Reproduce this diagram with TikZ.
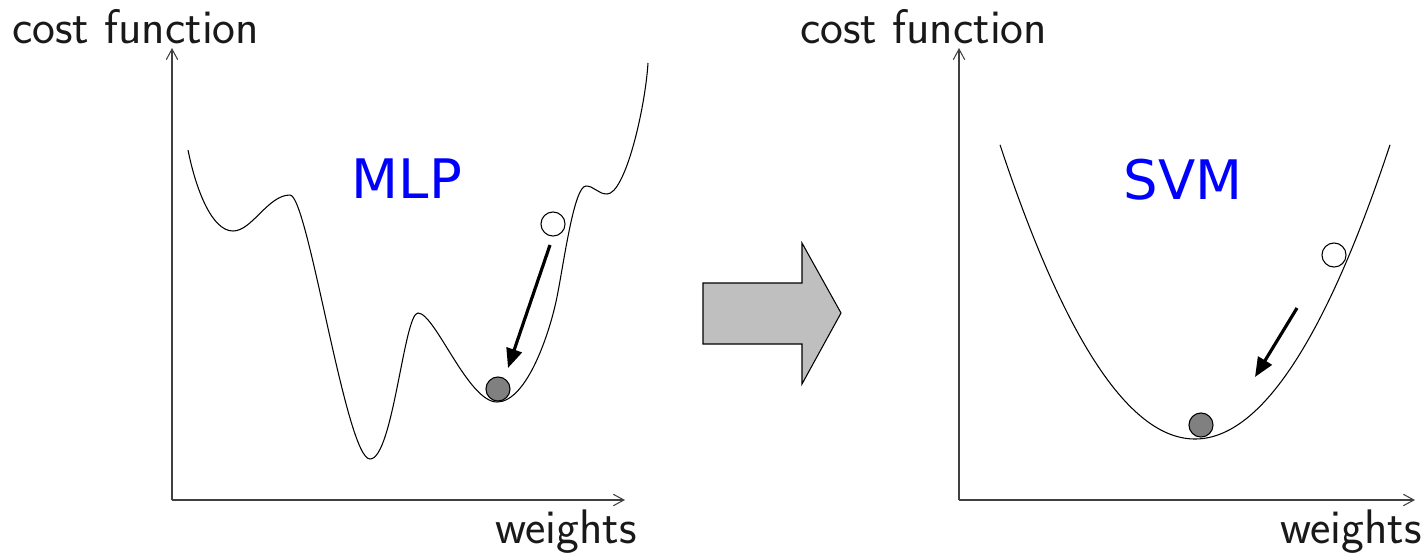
\documentclass[tikz,border=0pt]{standalone}
\usepackage{fontspec}
\newfontfamily\dejavu{DejaVu Sans}
\usetikzlibrary{arrows.meta}
\begin{document}
\begin{tikzpicture}[x=0.02cm,y=-0.02cm,
  axis/.style={draw=black!75,line width=0.6pt,-{Straight Barb[length=6pt,width=6.5pt]}},
  curve/.style={draw=black,line width=0.6pt},
  label/.style={font=\sffamily\fontsize{27.6}{32}\selectfont,inner sep=0pt,text=black!90},
  title/.style={font=\dejavu\fontsize{31}{36}\selectfont,text=blue,inner sep=0pt},
  startball/.style={circle,draw=black,line width=0.6pt,fill=white,minimum size=13.7pt,inner sep=0pt},
  endball/.style={circle,draw=black,line width=0.6pt,fill=black!50,minimum size=13.7pt,inner sep=0pt},
  move/.style={line width=1.8pt,-{Triangle[length=11pt,width=9pt]}},
  bigarrow/.style={draw=black,line width=0.6pt,fill=black!25}]
\useasboundingbox (0,0) rectangle (1427,555);
% left axes
\coordinate (o1) at (172,500);
\coordinate (y1) at (172,48);
\coordinate (x1) at (625,500);
\draw[axis] (o1) -- (y1);
\draw[axis] (o1) -- (x1);
\node[label,anchor=base west] (cf1) at (12,43) {cost function};
\node[label,anchor=base east] (w1) at (637,543) {weights};
\node[title] (mlp) at (407,179) {MLP};
% MLP curve
\draw[curve] (188,150)
  .. controls (196,190) and (212,231) .. (233,231)
  .. controls (252,231) and (268,195) .. (290,195)
  .. controls (308,195) and (346,459) .. (370,459)
  .. controls (393,459) and (404,313) .. (418,313)
  .. controls (435,313) and (468,402) .. (497,402)
  .. controls (527,402) and (550,332) .. (557,297)
  .. controls (564,262) and (574,186) .. (586,186)
  .. controls (594,186) and (598,194) .. (607,194)
  .. controls (625,194) and (645,110) .. (648,63);
\node[startball] (s1) at (553,224) {};
\node[endball] (e1) at (498,389) {};
\coordinate (a1s) at (550,245);
\coordinate (a1e) at (508,368);
\draw[move] (a1s) -- (a1e);
% big arrow
\draw[bigarrow] (703,283) -- (802,283) -- (802,243) -- (841,313) -- (802,384) -- (802,344) -- (703,344) -- cycle;
% right axes
\coordinate (o2) at (959,500);
\coordinate (y2) at (959,48);
\coordinate (x2) at (1415,500);
\draw[axis] (o2) -- (y2);
\draw[axis] (o2) -- (x2);
\node[label,anchor=base west] (cf2) at (800,43) {cost function};
\node[label,anchor=base east] (w2) at (1422,543) {weights};
\node[title] (svm) at (1183,180) {SVM};
\draw[curve,domain=1000:1390,samples=120] plot (\x,{439-0.00773*(\x-1195)*(\x-1195)});
\node[startball] (s2) at (1334,255) {};
\node[endball] (e2) at (1201,425) {};
\coordinate (a2s) at (1297,308);
\coordinate (a2e) at (1255,377);
\draw[move] (a2s) -- (a2e);
\end{tikzpicture}
\end{document}
